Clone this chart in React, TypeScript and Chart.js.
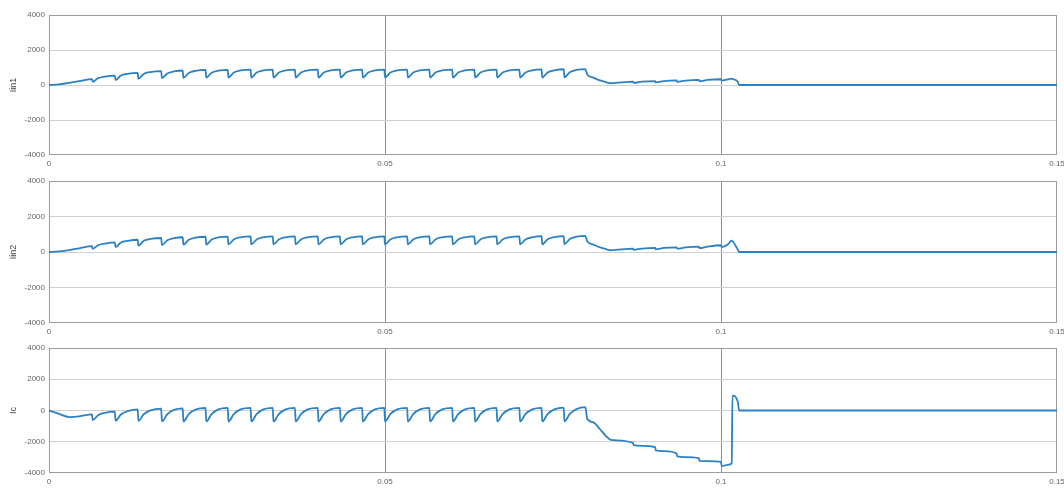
import React, { useEffect, useRef } from 'react';
import { Chart, registerables } from 'chart.js';

Chart.register(...registerables);

// shared time grid (s)
const time = [
  0, 0.0015, 0.003, 0.0045, 0.0064,
  0.0065, 0.0073, 0.0083, 0.0098,
  0.0099, 0.0107, 0.0117, 0.0132,
  0.0133, 0.0141, 0.0151, 0.0167,
  0.0168, 0.0176, 0.0186, 0.0199,
  0.0200, 0.0208, 0.0218, 0.0233,
  0.0234, 0.0242, 0.0252, 0.0266,
  0.0267, 0.0275, 0.0285, 0.0300,
  0.0301, 0.0309, 0.0319, 0.0333,
  0.0334, 0.0342, 0.0352, 0.0366,
  0.0367, 0.0375, 0.0385, 0.0400,
  0.0401, 0.0409, 0.0419, 0.0433,
  0.0434, 0.0442, 0.0452, 0.0466,
  0.0467, 0.0475, 0.0485, 0.0499,
  0.0500, 0.0508, 0.0518, 0.0533,
  0.0534, 0.0542, 0.0552, 0.0566,
  0.0567, 0.0575, 0.0585, 0.0600,
  0.0601, 0.0609, 0.0619, 0.0633,
  0.0634, 0.0642, 0.0652, 0.0666,
  0.0667, 0.0675, 0.0685, 0.0700,
  0.0701, 0.0709, 0.0719, 0.0733,
  0.0734, 0.0742, 0.0752, 0.0766,
  0.0767, 0.0775, 0.0785, 0.0798,
  0.0801, 0.0810, 0.0820, 0.0829, 0.0836,
  0.0869, 0.0870, 0.0882, 0.0902, 0.0903, 0.0915, 0.0934, 0.0935, 0.0947, 0.0967,
  0.0968, 0.0980, 0.1000, 0.1001, 0.1010, 0.1016, 0.1017, 0.1025, 0.1027, 0.1500,
];

const iin1 = [
  0, 40, 120, 220, 340,
  180, 390, 480, 540,
  280, 540, 640, 690,
  360, 630, 740, 790,
  390, 660, 780, 830,
  410, 690, 810, 860,
  420, 700, 820, 870,
  430, 710, 830, 880,
  430, 710, 830, 880,
  430, 710, 830, 880,
  430, 710, 830, 880,
  430, 710, 830, 880,
  430, 710, 830, 880,
  430, 710, 830, 880,
  430, 710, 830, 880,
  430, 710, 830, 880,
  430, 710, 830, 880,
  430, 710, 830, 880,
  430, 710, 830, 880,
  430, 710, 830, 880,
  430, 710, 830, 890,
  430, 720, 840, 900,
  440, 730, 860, 910,
  600, 420, 260, 160, 100,
  190, 120, 190, 225, 150, 225, 260, 180, 255, 295,
  215, 290, 330, 250, 320, 360, 350, 190, 0, 0,
];

const iin2 = [
  0, 40, 110, 210, 330,
  180, 380, 470, 540,
  280, 540, 630, 690,
  360, 630, 740, 790,
  390, 660, 780, 830,
  410, 690, 810, 860,
  420, 700, 820, 870,
  430, 710, 830, 880,
  430, 710, 830, 880,
  430, 710, 830, 880,
  430, 710, 830, 880,
  430, 710, 830, 880,
  430, 710, 830, 880,
  430, 710, 830, 880,
  430, 710, 830, 880,
  430, 710, 830, 880,
  430, 710, 830, 880,
  430, 710, 830, 880,
  430, 710, 830, 880,
  430, 710, 830, 880,
  430, 710, 830, 890,
  430, 720, 840, 900,
  440, 730, 860, 910,
  600, 420, 260, 160, 100,
  190, 120, 190, 230, 150, 230, 265, 185, 260, 300,
  215, 300, 380, 270, 420, 640, 620, 140, 0, 0,
];

const ic = [
  0, -220, -420, -380, -250,
  -610, -300, -150, -75,
  -650, -260, -40, 75,
  -670, -240, 10, 115,
  -700, -240, 40, 140,
  -700, -230, 60, 160,
  -700, -230, 70, 170,
  -700, -230, 70, 170,
  -700, -230, 70, 170,
  -700, -230, 70, 170,
  -700, -230, 70, 170,
  -700, -230, 70, 170,
  -700, -230, 70, 170,
  -700, -230, 70, 170,
  -700, -230, 70, 170,
  -700, -230, 70, 170,
  -700, -230, 70, 170,
  -700, -230, 70, 170,
  -700, -230, 70, 170,
  -700, -230, 70, 170,
  -700, -230, 70, 170,
  -700, -230, 70, 180,
  -700, -220, 90, 210,
  -550, -760, -1200, -1640, -1880,
  -2070, -2220, -2260, -2350, -2550, -2600, -2760, -2940, -2980, -3050,
  -3220, -3240, -3290, -3560, -3480, -3390, 950, 560, 0, 0,
];

const xTicks = [0, 0.05, 0.1, 0.15];
const xTickLabels = ['0', '0.05', '0.1', '0.15'];
const yTicks = [-4000, -2000, 0, 2000, 4000];
const yTickLabels = ['-4000', '-2000', '0', '2000', '4000'];
const panelTitles = ['Iin1', 'Iin2', 'Ic'];
const seriesList = [iin1, iin2, ic];

const FONT = "'Liberation Sans', Arial, Helvetica, sans-serif";
const W = 1064;
const panels = [
  { top: 0, h: 170, padTop: 15, xh: 15 },
  { top: 170, h: 168, padTop: 11, xh: 15 },
  { top: 338, h: 151, padTop: 10, xh: 16 },
];

const boxPlugin = {
  id: 'axesBox',
  beforeDatasetsDraw(chart: any) {
    const { ctx, chartArea } = chart;
    const { left, top, right, bottom } = chartArea;
    ctx.save();
    ctx.strokeStyle = '#9c9c9c';
    ctx.lineWidth = 1;
    ctx.strokeRect(Math.round(left) + 0.5, Math.round(top) + 0.5, Math.round(right - left) - 1, Math.round(bottom - top) - 1);
    ctx.restore();
  },
};

function makeConfig(i: number): any {
  const vals = seriesList[i];
  const p = panels[i];
  return {
    type: 'line',
    data: {
      datasets: [
        {
          data: time.map((t, k) => ({ x: t, y: vals[k] })),
          borderColor: '#2c81c3',
          borderWidth: 1.8,
          pointRadius: 0,
          fill: false,
          cubicInterpolationMode: 'monotone',
        },
      ],
    },
    options: {
      responsive: false,
      animation: false,
      events: [],
      layout: { padding: { top: p.padTop, right: 7, bottom: 0, left: 0 } },
      plugins: { legend: { display: false }, tooltip: { enabled: false } },
      scales: {
        x: {
          type: 'linear',
          min: 0,
          max: 0.15,
          afterBuildTicks: (s: any) => {
            s.ticks = xTicks.map((v) => ({ value: v }));
          },
          afterFit: (s: any) => {
            s.height = p.xh;
            s.paddingLeft = 0;
            s.paddingRight = 0;
          },
          ticks: {
            autoSkip: false,
            maxRotation: 0,
            padding: 4,
            color: '#666',
            font: { size: 8, family: FONT },
            callback: (v: number) => xTickLabels[xTicks.indexOf(v)] ?? '',
          },
          grid: {
            drawTicks: false,
            lineWidth: 1,
            color: (c: any) => (c.tick && (c.tick.value === 0 || c.tick.value === 0.15) ? 'rgba(0,0,0,0)' : '#8e8e8e'),
          },
          border: { display: false },
        },
        y: {
          type: 'linear',
          min: -4000,
          max: 4000,
          afterBuildTicks: (s: any) => {
            s.ticks = yTicks.map((v) => ({ value: v }));
          },
          afterFit: (s: any) => {
            s.width = 49;
            s.paddingTop = 0;
            s.paddingBottom = 0;
          },
          ticks: {
            padding: 4,
            color: '#666',
            font: { size: 8, family: FONT },
            callback: (v: number) => yTickLabels[yTicks.indexOf(v)] ?? '',
          },
          grid: {
            drawTicks: false,
            lineWidth: 1,
            color: (c: any) => (c.tick && Math.abs(c.tick.value) === 4000 ? 'rgba(0,0,0,0)' : '#d0d0d0'),
          },
          border: { display: false },
          title: {
            display: true,
            text: panelTitles[i],
            color: '#444',
            font: { size: 9, family: FONT },
            padding: { top: 8, bottom: 0 },
          },
        },
      },
    },
    plugins: [boxPlugin],
  };
}

export default function App() {
  const r0 = useRef<HTMLCanvasElement>(null);
  const r1 = useRef<HTMLCanvasElement>(null);
  const r2 = useRef<HTMLCanvasElement>(null);

  useEffect(() => {
    const canvases = [r0.current, r1.current, r2.current];
    const charts = canvases.map((cv, i) => new Chart(cv as HTMLCanvasElement, makeConfig(i)));
    return () => {
      charts.forEach((c) => c.destroy());
    };
  }, []);

  const refs = [r0, r1, r2];
  return (
    <div style={{ position: 'fixed', left: 0, top: 0, width: W, height: 489, background: '#fff', overflow: 'hidden' }}>
      {panels.map((p, i) => (
        <canvas
          key={i}
          ref={refs[i]}
          width={W}
          height={p.h}
          style={{ position: 'absolute', left: 0, top: p.top, width: W, height: p.h, display: 'block' }}
        />
      ))}
    </div>
  );
}
